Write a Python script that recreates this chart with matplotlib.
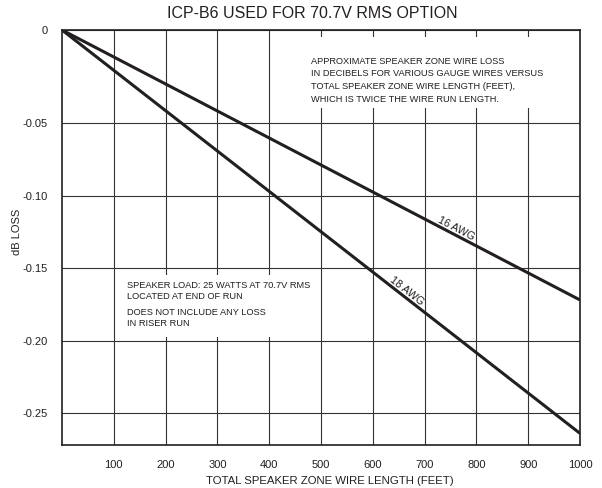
import numpy as np
import matplotlib
matplotlib.use("Agg")
import matplotlib.pyplot as plt
from matplotlib.patches import Rectangle

# ---- data ----
lengths = [0, 1000]
loss_16awg = [0.0, -0.172]
loss_18awg = [0.0, -0.264]
x_ticks = [100, 200, 300, 400, 500, 600, 700, 800, 900, 1000]
y_ticks = [0, -0.05, -0.10, -0.15, -0.20, -0.25]
y_ticklabels = ["0", "-0.05", "-0.10", "-0.15", "-0.20", "-0.25"]
title = "ICP-B6 USED FOR 70.7V RMS OPTION"
xlabel = "TOTAL SPEAKER ZONE WIRE LENGTH (FEET)"
ylabel = "dB LOSS"
note1 = ("APPROXIMATE SPEAKER ZONE WIRE LOSS\n"
         "IN DECIBELS FOR VARIOUS GAUGE WIRES VERSUS\n"
         "TOTAL SPEAKER ZONE WIRE LENGTH (FEET),\n"
         "WHICH IS TWICE THE WIRE RUN LENGTH.")
note2a = "SPEAKER LOAD: 25 WATTS AT 70.7V RMS\nLOCATED AT END OF RUN"
note2b = "DOES NOT INCLUDE ANY LOSS\nIN RISER RUN"

plt.rcParams['font.family'] = ['Liberation Sans', 'DejaVu Sans']
INK = '#231f20'

# piecewise-linear y scale (first interval is drawn taller in the original)
K = 93 / 72.5
def fwd(y):
    y = np.asarray(y, dtype=float)
    return np.where(y > -0.05, -0.05 + (y + 0.05) * K, y)
def inv(s):
    s = np.asarray(s, dtype=float)
    return np.where(s > -0.05, -0.05 + (s + 0.05) / K, s)

fig = plt.figure(figsize=(6.02, 4.88), dpi=100)
ax = fig.add_axes([62/602, 1-445/488, 518/602, 415/488])
ax.set_yscale('function', functions=(fwd, inv))
ax.set_xlim(0, 1000)
ax.set_ylim(-0.272, 0)

ax.set_xticks(x_ticks)
ax.set_xticklabels([str(v) for v in x_ticks])
ax.set_yticks(y_ticks)
ax.set_yticklabels(y_ticklabels)
ax.tick_params(axis='both', length=0, labelsize=8, colors=INK)
ax.tick_params(axis='x', pad=11)
ax.tick_params(axis='y', pad=10)
ax.set_axisbelow(True)
ax.grid(True, color='#333333', linewidth=0.8)
for sp in ax.spines.values():
    sp.set_linewidth(1.2)
    sp.set_color(INK)

# white masks behind notes
ax.add_patch(Rectangle((0.459, 0.812), 0.531, 0.171, transform=ax.transAxes,
                       facecolor='white', edgecolor='none', zorder=1))
ax.add_patch(Rectangle((0.110, 0.260), 0.382, 0.150, transform=ax.transAxes,
                       facecolor='white', edgecolor='none', zorder=1))

ax.plot(lengths, loss_16awg, color=INK, linewidth=2.2, zorder=3, solid_capstyle='butt')
ax.plot(lengths, loss_18awg, color=INK, linewidth=2.2, zorder=3, solid_capstyle='butt')

fig.canvas.draw()
def label_line(xs, ys, t, text, off_pts):
    p0 = ax.transData.transform((xs[0], ys[0]))
    p1 = ax.transData.transform((xs[1], ys[1]))
    ang = np.degrees(np.arctan2(p1[1]-p0[1], p1[0]-p0[0]))
    p = p0 + t * (p1 - p0)
    xy = ax.transData.inverted().transform(p)
    th = np.radians(ang)
    ax.annotate(text, xy=xy, xytext=(-np.sin(th)*off_pts, np.cos(th)*off_pts),
                textcoords='offset points', rotation=ang, rotation_mode='anchor',
                ha='center', va='center', fontsize=7.8, color=INK, zorder=4)

label_line(lengths, loss_16awg, 0.755, "16 AWG", 4.5)
label_line(lengths, loss_18awg, 0.658, "18 AWG", 4.5)

ax.text((311-62)/518, 1-(57-30)/415, note1, transform=ax.transAxes, fontsize=6.7,
        va='top', ha='left', linespacing=1.5, color=INK, zorder=4)
ax.text((127-62)/518, 1-(281-30)/415, note2a, transform=ax.transAxes, fontsize=6.7,
        va='top', ha='left', linespacing=1.35, color=INK, zorder=4)
ax.text((127-62)/518, 1-(308-30)/415, note2b, transform=ax.transAxes, fontsize=6.7,
        va='top', ha='left', linespacing=1.35, color=INK, zorder=4)

fig.text(312.5/602, 1-14/488, title, ha='center', va='center', fontsize=11.5, color=INK)
fig.text(330/602, 1-481.5/488, xlabel, ha='center', va='center', fontsize=8.2, color=INK)
fig.text(17/602, 1-232/488, ylabel, ha='center', va='center', rotation=90, fontsize=8, color=INK)

fig.savefig("out.png", dpi=100)
